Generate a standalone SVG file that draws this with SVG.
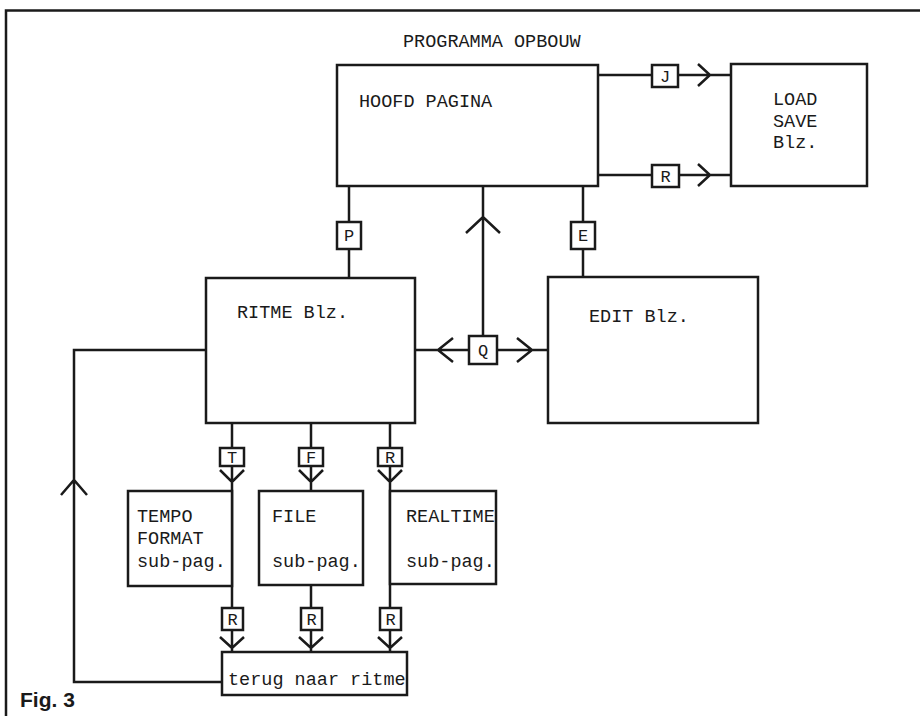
<svg xmlns="http://www.w3.org/2000/svg" width="920" height="716" viewBox="0 0 920 716">
<style>
.box{fill:#fff;stroke:#1a1a1a;stroke-width:2.5}
.ln{fill:none;stroke:#1a1a1a;stroke-width:2.5;stroke-linejoin:miter}
.t{font-family:"Liberation Mono","DejaVu Sans Mono",monospace;font-size:18.5px;fill:#1a1a1a}
.k{font-family:"Liberation Mono","DejaVu Sans Mono",monospace;font-size:17px;fill:#1a1a1a;text-anchor:middle}
.fig{font-family:"Liberation Sans",Arial,sans-serif;font-weight:bold;font-size:21px;fill:#1a1a1a}
</style>
<rect width="920" height="716" fill="#fff"/>
<path class="ln" d="M6,716 V10.5 H920"/>
<text class="t" x="403" y="47">PROGRAMMA OPBOUW</text>
<g id="connectors">
  <path class="ln" d="M598,75 H731 M698,64 L710,75 L698,86"/>
  <path class="ln" d="M598,175 H731 M698,164 L710,175 L698,186"/>
  <path class="ln" d="M349,186 V278"/>
  <path class="ln" d="M583,186 V277"/>
  <path class="ln" d="M483,186 V336 M466,233 L483,217 L500,233"/>
  <path class="ln" d="M415,350 H548 M453,338 L438,350 L453,362 M517,338 L532,350 L517,362"/>
  <path class="ln" d="M232,423 V652 M220,470 L232,482 L244,470 M220,637 L232,648 L244,637"/>
  <path class="ln" d="M311,423 V491 M311,585 V652 M299,470 L311,482 L323,470 M299,637 L311,648 L323,637"/>
  <path class="ln" d="M390,423 V652 M378,470 L390,482 L402,470 M378,637 L390,648 L402,637"/>
  <path class="ln" d="M222,682 H74 V350 H206 M61,495 L74,480 L87,495"/>
</g>
<g id="hoofd"><rect class="box" x="337" y="65" width="261" height="121"/><text class="t" x="359" y="107">HOOFD PAGINA</text></g>
<g id="loadsave"><rect class="box" x="731" y="64" width="136" height="122"/><text class="t" x="773" y="105">LOAD</text><text class="t" x="773" y="127">SAVE</text><text class="t" x="773" y="148">Blz.</text></g>
<g id="ritme"><rect class="box" x="206" y="278" width="209" height="145"/><text class="t" x="237" y="318">RITME Blz.</text></g>
<g id="edit"><rect class="box" x="548" y="277" width="210" height="146"/><text class="t" x="589" y="322">EDIT Blz.</text></g>
<g id="tempo"><rect class="box" x="128" y="491" width="104" height="95"/><text class="t" x="137" y="522">TEMPO</text><text class="t" x="137" y="544">FORMAT</text><text class="t" x="137" y="567">sub-pag.</text></g>
<g id="file"><rect class="box" x="259" y="491" width="104" height="94"/><text class="t" x="272" y="522">FILE</text><text class="t" x="272" y="567">sub-pag.</text></g>
<g id="realtime"><rect class="box" x="390" y="491" width="106" height="93"/><text class="t" x="406" y="522">REALTIME</text><text class="t" x="406" y="567">sub-pag.</text></g>
<g id="terug"><rect class="box" x="222" y="652" width="185" height="43"/><text class="t" x="228" y="685">terug naar ritme</text></g>
<g id="key-J"><rect class="box" x="652" y="65" width="26" height="22"/><text class="k" x="665" y="82">J</text></g>
<g id="key-R1"><rect class="box" x="652" y="165" width="27" height="22"/><text class="k" x="665.5" y="182">R</text></g>
<g id="key-P"><rect class="box" x="337" y="222" width="24" height="27"/><text class="k" x="349" y="241">P</text></g>
<g id="key-E"><rect class="box" x="571" y="222" width="24" height="27"/><text class="k" x="583" y="241">E</text></g>
<g id="key-Q"><rect class="box" x="469" y="336" width="28" height="28"/><text class="k" x="483" y="356">Q</text></g>
<g id="key-T"><rect class="box" x="220" y="448" width="24" height="18"/><text class="k" x="232" y="463">T</text></g>
<g id="key-F"><rect class="box" x="299" y="448" width="24" height="18"/><text class="k" x="311" y="463">F</text></g>
<g id="key-R2"><rect class="box" x="378" y="448" width="24" height="18"/><text class="k" x="390" y="463">R</text></g>
<g id="key-R3"><rect class="box" x="222" y="608" width="21" height="22"/><text class="k" x="232.5" y="625">R</text></g>
<g id="key-R4"><rect class="box" x="301" y="608" width="21" height="22"/><text class="k" x="311.5" y="625">R</text></g>
<g id="key-R5"><rect class="box" x="380" y="608" width="21" height="22"/><text class="k" x="390.5" y="625">R</text></g>
<text class="fig" x="20" y="707">Fig. 3</text>
</svg>
